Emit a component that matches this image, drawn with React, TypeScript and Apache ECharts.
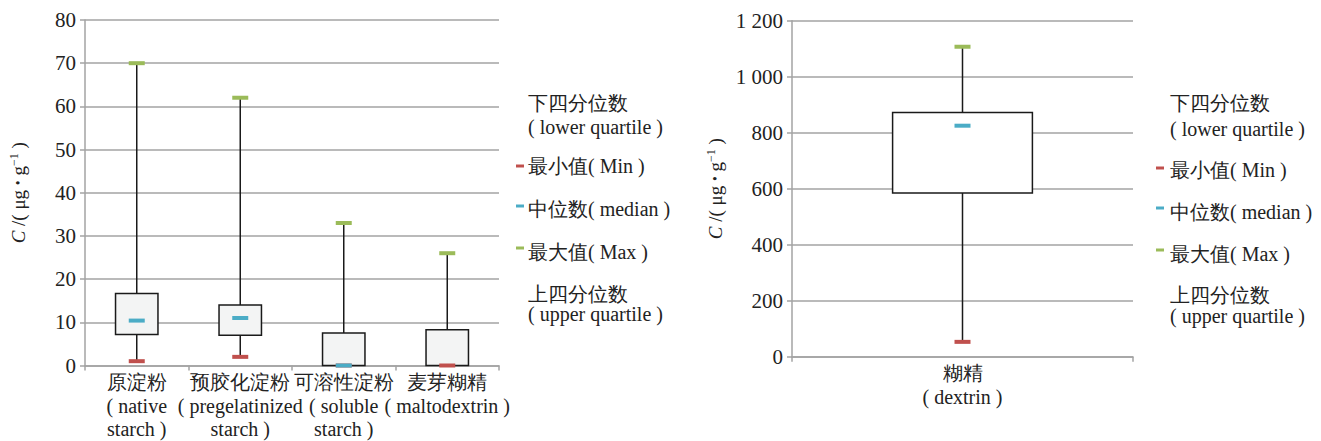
import React, { useEffect, useRef } from "react";
import * as echarts from "echarts";

const leftCategories = [
  "原淀粉\n( native\nstarch )",
  "预胶化淀粉\n( pregelatinized\nstarch )",
  "可溶性淀粉\n( soluble\nstarch )",
  "麦芽糊精\n( maltodextrin )",
];
const leftMin = [1.0, 2.0, 0, 0];
const leftQ1 = [7.2, 7.0, 0, 0];
const leftMedian: (number | null)[] = [10.4, 11.0, 0, null];
const leftQ3 = [16.7, 14.0, 7.5, 8.3];
const leftMax = [70, 62, 33, 26];

const rightCategories = ["糊精\n( dextrin )"];
const rightMin = [53];
const rightQ1 = [585];
const rightMedian = [825];
const rightQ3 = [872];
const rightMax = [1107];

const leftTicks = { min: 0, max: 80, interval: 10 };
const rightTicks = { min: 0, max: 1200, interval: 200 };

const legendRows = [
  { text: "下四分位数", marker: null },
  { text: "( lower quartile )", marker: null },
  { text: "最小值( Min )", marker: "#c0504d" },
  { text: "中位数( median )", marker: "#4bacc6" },
  { text: "最大值( Max )", marker: "#9bbb59" },
  { text: "上四分位数", marker: null },
  { text: "( upper quartile )", marker: null },
];

const FONT = '"Liberation Serif", "DejaVu Serif", serif';
const GRID_COLOR = "#a3a3a3";
const TEXT_COLOR = "#222";

function buildBoxData(mins: number[], q1: number[], med: (number | null)[], q3: number[], max: number[]) {
  return mins.map((m, i) => [i, m, q1[i], med[i] ?? q1[i], q3[i], max[i]]);
}

function makeRenderItem(fill: string) {
  return (params: any, api: any) => {
    const x = api.value(0);
    const lo = api.coord([x, api.value(1)]);
    const q1 = api.coord([x, api.value(2)]);
    const q3 = api.coord([x, api.value(4)]);
    const hi = api.coord([x, api.value(5)]);
    const w = api.size([1, 0])[0] * 0.41;
    return {
      type: "group",
      children: [
        {
          type: "line",
          shape: { x1: lo[0], y1: lo[1], x2: hi[0], y2: hi[1] },
          style: { stroke: "#1a1a1a", lineWidth: 1.5 },
        },
        {
          type: "rect",
          shape: { x: q3[0] - w / 2, y: q3[1], width: w, height: q1[1] - q3[1] },
          style: { fill, stroke: "#1a1a1a", lineWidth: 1.5 },
        },
      ],
    };
  };
}

function markerSeries(name: string, values: (number | null)[], color: string, xi: number, z: number) {
  return {
    type: "scatter",
    name,
    xAxisIndex: xi,
    yAxisIndex: xi,
    symbol: "rect",
    symbolSize: [16, 4],
    z,
    itemStyle: { color, opacity: 1 },
    data: values.map((v, i) => (v === null ? [i, "-"] : [i, v])),
  };
}

function legendGraphics(textX: number, markerX: number, ys: number[], markerYs: number[]) {
  const els: any[] = [];
  legendRows.forEach((r, i) => {
    els.push({
      type: "text",
      x: textX,
      y: ys[i],
      style: {
        text: r.text,
        fontFamily: FONT,
        fontSize: 20,
        fill: TEXT_COLOR,
        verticalAlign: "middle",
        align: "left",
      },
    });
  });
  let k = 0;
  legendRows.forEach((r) => {
    if (r.marker) {
      els.push({
        type: "rect",
        shape: { x: markerX, y: markerYs[k] - 1.5, width: 8, height: 3 },
        style: { fill: r.marker },
      });
      k++;
    }
  });
  return els;
}

function yAxisCommon(ticks: { min: number; max: number; interval: number }, formatter?: (v: number) => string) {
  return {
    type: "value",
    ...ticks,
    name: "{i|C}{n| /( μg }{d|•}{n| g}{s|−1}{n| )}",
    nameLocation: "middle",
    nameRotate: 90,
    nameTextStyle: {
      rich: {
        i: { fontFamily: FONT, fontStyle: "italic", fontSize: 19, color: TEXT_COLOR },
        n: { fontFamily: FONT, fontSize: 19, color: TEXT_COLOR },
        d: { fontFamily: FONT, fontSize: 14, color: TEXT_COLOR },
        s: { fontFamily: FONT, fontSize: 12, color: TEXT_COLOR, verticalAlign: "top", padding: [0, 0, 9, 0] },
      },
    },
    axisLine: { show: true, lineStyle: { color: GRID_COLOR, width: 1.5 } },
    axisTick: { show: true, length: 5, lineStyle: { color: GRID_COLOR, width: 1.5 } },
    splitLine: { show: true, lineStyle: { color: GRID_COLOR, width: 1.5 } },
    axisLabel: {
      fontFamily: FONT,
      fontSize: 21,
      color: TEXT_COLOR,
      margin: 9,
      formatter: formatter,
    },
  };
}

function xAxisCommon(data: string[], gridIndex: number) {
  return {
    type: "category",
    gridIndex,
    data,
    boundaryGap: true,
    axisLine: { show: true, lineStyle: { color: GRID_COLOR, width: 1.5 } },
    axisTick: { show: true, length: 5, alignWithLabel: false, lineStyle: { color: GRID_COLOR, width: 1.5 } },
    splitLine: { show: false },
    axisLabel: {
      interval: 0,
      fontFamily: FONT,
      fontSize: 20,
      lineHeight: 23.5,
      color: TEXT_COLOR,
      margin: 5,
      verticalAlign: "top",
    },
  };
}

export default function App() {
  const ref = useRef<HTMLDivElement>(null);
  useEffect(() => {
    if (!ref.current) return;
    const chart = echarts.init(ref.current, null, { renderer: "svg" });
    const spaceFmt = (v: number) => String(v).replace(/\B(?=(\d{3})+(?!\d))/g, " ");
    chart.setOption({
      animation: false,
      backgroundColor: "#fff",
      textStyle: { fontFamily: FONT },
      grid: [
        { left: 85, top: 20, width: 414, height: 346.5 },
        { left: 792, top: 20.7, width: 341, height: 336 },
      ],
      xAxis: [xAxisCommon(leftCategories, 0), xAxisCommon(rightCategories, 1)],
      yAxis: [
        { ...yAxisCommon(leftTicks), gridIndex: 0, nameGap: 56 },
        { ...yAxisCommon(rightTicks, spaceFmt), gridIndex: 1, nameGap: 66 },
      ],
      series: [
        {
          type: "custom",
          xAxisIndex: 0,
          yAxisIndex: 0,
          z: 2,
          renderItem: makeRenderItem("#f3f4f4"),
          encode: { x: 0, y: [1, 2, 3, 4, 5] },
          data: buildBoxData(leftMin, leftQ1, leftMedian, leftQ3, leftMax),
        },
        markerSeries("最小值", leftMin, "#c0504d", 0, 3),
        markerSeries("中位数", leftMedian, "#4bacc6", 0, 4),
        markerSeries("最大值", leftMax, "#9bbb59", 0, 4),
        {
          type: "custom",
          xAxisIndex: 1,
          yAxisIndex: 1,
          z: 2,
          renderItem: makeRenderItem("#ffffff"),
          encode: { x: 0, y: [1, 2, 3, 4, 5] },
          data: buildBoxData(rightMin, rightQ1, rightMedian, rightQ3, rightMax),
        },
        markerSeries("最小值", rightMin, "#c0504d", 1, 3),
        markerSeries("中位数", rightMedian, "#4bacc6", 1, 4),
        markerSeries("最大值", rightMax, "#9bbb59", 1, 4),
      ],
      graphic: [
        ...legendGraphics(528, 516, [103, 127, 166, 209, 252, 294, 314], [166, 206, 248]),
        ...legendGraphics(1170, 1156, [103, 129, 170, 212, 254, 295, 316], [168, 208, 250]),
      ],
    });
    return () => chart.dispose();
  }, []);
  return (
    <div
      ref={ref}
      style={{ position: "fixed", left: 0, top: 0, width: 1321, height: 441, background: "#fff" }}
    />
  );
}
